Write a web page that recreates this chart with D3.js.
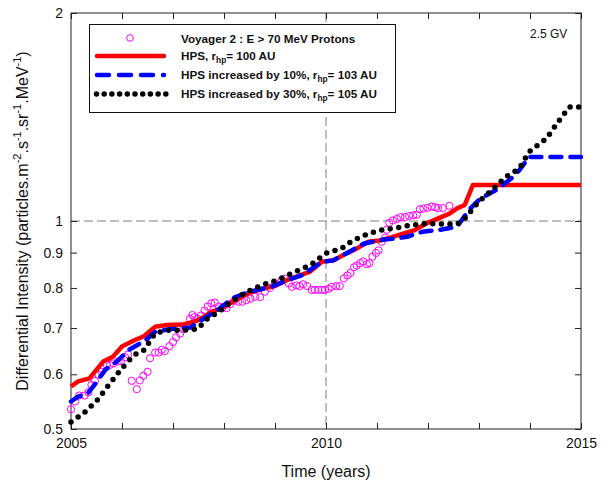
<!DOCTYPE html>
<html><head><meta charset="utf-8">
<script src="https://cdn.jsdelivr.net/npm/d3@7"></script>
<style>
body{margin:0;background:#fff;}
svg{display:block;font-family:"Liberation Sans",Arial,sans-serif;}
</style></head>
<body><svg id="chart" width="608" height="483"></svg>
<script>
// ---------------- data ----------------
const xTicks = [2005,2006,2007,2008,2009,2010,2011,2012,2013,2014,2015];
const xLabels = [2005,2010,2015];
const yTicks = [0.5,0.6,0.7,0.8,0.9,1,2];
const legendLabels = ["Voyager 2 : E > 70 MeV Protons","HPS, r","HPS increased by 10%, r","HPS increased by 30%, r"];
const legendRadii = ["", "100 AU", "103 AU", "105 AU"];
const annotation = "2.5 GV";

const voyYears = [2005.00,2005.08,2005.16,2005.27,2005.34,2005.40,2005.47,2005.54,2005.60,2005.70,2005.76,2005.83,2005.92,2005.98,2006.06,2006.12,2006.19,2006.29,2006.35,2006.42,2006.50,2006.55,2006.65,2006.72,2006.78,2006.84,2006.93,2007.00,2007.06,2007.14,2007.20,2007.27,2007.33,2007.38,2007.42,2007.48,2007.55,2007.62,2007.68,2007.75,2007.82,2007.90,2007.98,2008.05,2008.12,2008.20,2008.28,2008.36,2008.44,2008.52,2008.61,2008.71,2008.80,2008.90,2009.00,2009.13,2009.20,2009.27,2009.33,2009.42,2009.48,2009.55,2009.63,2009.72,2009.78,2009.85,2009.92,2009.98,2010.05,2010.11,2010.20,2010.27,2010.35,2010.42,2010.48,2010.55,2010.60,2010.67,2010.73,2010.80,2010.85,2010.91,2010.98,2011.03,2011.09,2011.16,2011.19,2011.24,2011.31,2011.39,2011.46,2011.55,2011.63,2011.71,2011.78,2011.84,2011.91,2011.99,2012.07,2012.14,2012.20,2012.29,2012.42];
const voyValues = [0.534,0.548,0.559,0.559,0.565,0.579,0.587,0.599,0.605,0.619,0.619,0.622,0.626,0.627,0.635,0.641,0.587,0.571,0.588,0.597,0.605,0.633,0.645,0.645,0.651,0.648,0.659,0.668,0.679,0.687,0.697,0.705,0.722,0.731,0.726,0.722,0.730,0.742,0.752,0.760,0.762,0.752,0.750,0.748,0.758,0.767,0.764,0.764,0.768,0.772,0.777,0.776,0.790,0.800,0.812,0.821,0.825,0.812,0.803,0.807,0.805,0.810,0.805,0.795,0.795,0.795,0.795,0.795,0.798,0.803,0.805,0.805,0.826,0.834,0.841,0.857,0.862,0.869,0.874,0.866,0.869,0.888,0.899,0.907,0.933,0.946,0.971,0.994,1.002,1.007,1.013,1.013,1.017,1.019,1.021,1.040,1.042,1.045,1.049,1.047,1.044,1.044,1.052];

const hpsYears = [2005.00,2005.14,2005.36,2005.63,2005.82,2006.00,2006.24,2006.43,2006.65,2006.88,2007.19,2007.41,2007.56,2007.75,2007.94,2008.17,2008.47,2008.78,2009.00,2009.23,2009.50,2009.69,2009.92,2010.14,2010.37,2010.60,2010.83,2011.05,2011.28,2011.51,2011.74,2011.97,2012.19,2012.42,2012.57,2012.72,2012.88,2015.00];
const hpsValues = [0.576,0.586,0.592,0.626,0.636,0.658,0.672,0.681,0.703,0.707,0.708,0.715,0.723,0.739,0.747,0.764,0.786,0.799,0.805,0.821,0.835,0.845,0.873,0.877,0.895,0.912,0.933,0.937,0.947,0.959,0.970,0.992,1.008,1.025,1.043,1.055,1.127,1.127];

const hps10Years = [2005.00,2005.14,2005.33,2005.48,2005.67,2005.90,2006.12,2006.46,2006.65,2006.96,2007.34,2007.56,2007.87,2008.17,2008.47,2008.93,2009.23,2009.54,2009.92,2010.14,2010.45,2010.75,2011.13,2011.36,2011.59,2011.89,2012.27,2012.57,2012.80,2013.03,2013.33,2013.63,2013.79,2013.98,2015.00];
const hps10Values = [0.548,0.557,0.563,0.582,0.609,0.626,0.650,0.672,0.691,0.698,0.701,0.719,0.743,0.773,0.789,0.803,0.821,0.835,0.873,0.877,0.902,0.928,0.940,0.943,0.949,0.965,0.972,0.981,1.037,1.078,1.108,1.152,1.184,1.238,1.238];

const hps30Years = [2005.00,2005.25,2005.52,2005.74,2005.97,2006.24,2006.43,2006.65,2006.88,2007.19,2007.49,2007.64,2007.94,2008.10,2008.40,2008.74,2009.04,2009.39,2009.69,2010.00,2010.30,2010.52,2010.83,2011.13,2011.36,2011.66,2011.97,2012.27,2012.57,2012.72,2012.99,2013.25,2013.52,2013.79,2013.98,2014.32,2014.55,2014.77,2014.96];
const hps30Values = [0.512,0.527,0.551,0.579,0.609,0.640,0.650,0.688,0.695,0.695,0.698,0.719,0.743,0.760,0.786,0.808,0.821,0.844,0.863,0.898,0.912,0.937,0.959,0.972,0.977,0.986,0.992,0.990,0.990,1.008,1.066,1.108,1.158,1.191,1.259,1.316,1.391,1.462,1.462];

// ---------------- layout ----------------
const svg = d3.select("#chart");
const m = {left:71, top:13, right:27, bottom:54};
const W = 608 - m.left - m.right, H = 483 - m.top - m.bottom;
const xScale = d3.scaleLinear().domain([2005,2015]).range([0,W]);
const yScale = d3.scaleLog().domain([0.5,2]).range([H,0]);
const g = svg.append("g").attr("transform",`translate(${m.left},${m.top})`);
const axisCol = "#222";

// grid dashed lines
g.append("line").attr("x1",xScale(2010)).attr("x2",xScale(2010)).attr("y1",0).attr("y2",H)
  .attr("stroke","#7f7f7f").attr("stroke-dasharray","9,4").attr("stroke-width",1);
g.append("line").attr("x1",0).attr("x2",W).attr("y1",yScale(1)).attr("y2",yScale(1))
  .attr("stroke","#7f7f7f").attr("stroke-dasharray","9,4").attr("stroke-width",1);

// axes
const fmtX = d => xLabels.includes(d) ? String(d) : "";
const axB = g.append("g").attr("transform",`translate(0,${H})`)
  .call(d3.axisBottom(xScale).tickValues(xTicks).tickFormat(fmtX).tickSize(-6).tickPadding(9));
const axT = g.append("g").call(d3.axisTop(xScale).tickValues(xTicks).tickFormat("").tickSize(-6));
const axL = g.append("g").call(d3.axisLeft(yScale).tickValues(yTicks).tickFormat(d3.format("")).tickSize(-6).tickPadding(8));
const axR = g.append("g").attr("transform",`translate(${W},0)`)
  .call(d3.axisRight(yScale).tickValues(yTicks).tickFormat("").tickSize(-6));
[axB,axT,axL,axR].forEach(a=>{
  a.select(".domain").remove();
  a.selectAll("line").attr("stroke",axisCol);
  a.selectAll("text").attr("font-size",14).attr("fill","#111").attr("font-family",'"Liberation Sans",Arial,sans-serif');
});
g.append("rect").attr("x",0).attr("y",0).attr("width",W).attr("height",H)
  .attr("fill","none").attr("stroke",axisCol).attr("stroke-width",1);

// series
const line = d3.line().x(d=>xScale(d[0])).y(d=>yScale(d[1]));
const voy = voyYears.map((t,i)=>[t,voyValues[i]]);
const hps = hpsYears.map((t,i)=>[t,hpsValues[i]]);
const hps10 = hps10Years.map((t,i)=>[t,hps10Values[i]]);
const hps30 = hps30Years.map((t,i)=>[t,hps30Values[i]]);

g.append("g").selectAll("circle").data(voy).join("circle")
  .attr("cx",d=>xScale(d[0])).attr("cy",d=>yScale(d[1])).attr("r",3.6)
  .attr("fill","none").attr("stroke","#ff00ff").attr("stroke-width",1);
g.append("path").datum(hps).attr("d",line).attr("fill","none")
  .attr("stroke","#ff0000").attr("stroke-width",4.5).attr("stroke-linejoin","round");
g.append("path").datum(hps10).attr("d",line).attr("fill","none")
  .attr("stroke","#0000ff").attr("stroke-width",4.5).attr("stroke-linecap","round")
  .attr("stroke-dasharray","11,9");
g.append("path").datum(hps30).attr("d",line).attr("fill","none")
  .attr("stroke","#000").attr("stroke-width",5.5).attr("stroke-linecap","round")
  .attr("stroke-dasharray","0,8.6");

// legend
const lg = svg.append("g");
lg.append("rect").attr("x",89.5).attr("y",24.5).attr("width",306).attr("height",88)
  .attr("fill","#fff").attr("stroke","#111").attr("stroke-width",1);
const rowsY = [39,56,75,94];
lg.append("circle").attr("cx",130).attr("cy",rowsY[0]-1).attr("r",3.3)
  .attr("fill","none").attr("stroke","#ff00ff").attr("stroke-width",1);
lg.append("line").attr("x1",97).attr("x2",164).attr("y1",rowsY[1]).attr("y2",rowsY[1])
  .attr("stroke","#ff0000").attr("stroke-width",4.5).attr("stroke-linecap","round");
lg.append("line").attr("x1",97).attr("x2",164).attr("y1",rowsY[2]).attr("y2",rowsY[2])
  .attr("stroke","#0000ff").attr("stroke-width",4.5).attr("stroke-linecap","round").attr("stroke-dasharray","12,10");
lg.append("line").attr("x1",96.5).attr("x2",166).attr("y1",rowsY[3]).attr("y2",rowsY[3])
  .attr("stroke","#000").attr("stroke-width",5.5).attr("stroke-linecap","round").attr("stroke-dasharray","0,7.7");
legendLabels.forEach((lab,i)=>{
  const t = lg.append("text").attr("x",181).attr("y",rowsY[i]+4)
    .attr("font-size",11.7).attr("font-weight","bold").attr("fill","#111");
  t.append("tspan").text(lab);
  if(legendRadii[i]){
    t.append("tspan").attr("font-size",8.3).attr("dy",3).text("hp");
    t.append("tspan").attr("dy",-3).text("= "+legendRadii[i]);
  }
});

// annotation
svg.append("text").attr("x",530).attr("y",38).attr("font-size",12).attr("fill","#111").text(annotation);

// axis titles
svg.append("text").attr("x",m.left+W/2).attr("y",477).attr("text-anchor","middle")
  .attr("font-size",16).attr("fill","#111").text("Time (years)");
const yt = svg.append("text").attr("transform",`translate(28,${m.top+H/2}) rotate(-90)`)
  .attr("text-anchor","middle").attr("font-size",16).attr("fill","#111");
const parts = [["Differential Intensity (particles.m",0],["-2",1],[".s",0],["-1",1],[".sr",0],["-1",1],[".MeV",0],["-1",1],[")",0]];
let prevSup = false;
parts.forEach(([s,sup])=>{
  const ts = yt.append("tspan").text(s);
  if(sup){ ts.attr("font-size",11).attr("dy",-7); prevSup=true; }
  else if(prevSup){ ts.attr("dy",7); prevSup=false; }
});
</script>
</body></html>
